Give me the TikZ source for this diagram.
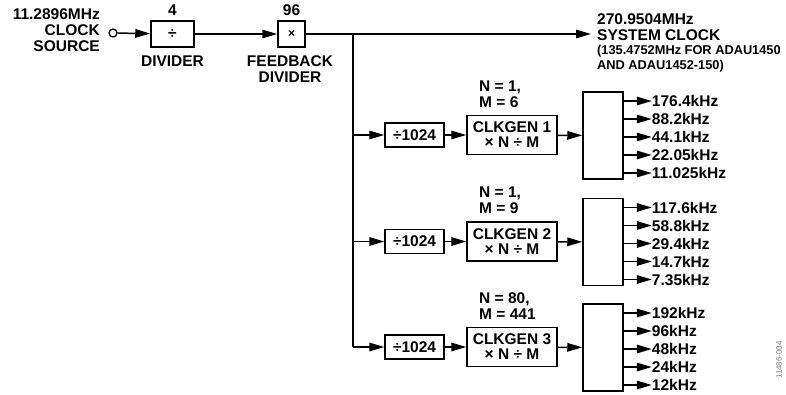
\documentclass[tikz,border=0pt]{standalone}
\usepackage{fontspec}
\setmainfont{Liberation Sans}
\usetikzlibrary{arrows.meta}
\begin{document}
\begin{tikzpicture}[x=1pt,y=-1pt,
  lbl/.style={font=\fontsize{15.5}{16}\selectfont\bfseries, inner sep=0pt},
  sml/.style={font=\fontsize{12.8}{15}\selectfont\bfseries, inner sep=0pt},
  box/.style={draw, line width=1.5pt, inner sep=0pt, font=\fontsize{15.5}{15}\selectfont\bfseries, align=center},
  arr/.style={line width=1.5pt, -{Triangle[length=15pt,width=8.5pt]}},
  wire/.style={line width=1.5pt}]
\useasboundingbox (0,0) rectangle (786,394);

% source
\node[lbl, align=right, anchor=east] (srctxt) at (100,30) {11.2896MHz\\CLOCK\\SOURCE};
\node[draw, circle, line width=1.3pt, minimum size=8pt, inner sep=0pt] (src) at (113,33) {};
\node[box, minimum width=43pt, minimum height=26pt] (div) at (172.5,34) {÷};
\node[lbl] (divn) at (172.5,10) {4};
\node[lbl] (divl) at (172.5,61) {DIVIDER};
\node[box, minimum width=27pt, minimum height=26pt] (fb) at (291.5,34) {\fontsize{12}{12}\selectfont ×};
\node[lbl] (fbn) at (291.5,10) {96};
\node[lbl, align=center] (fbl) at (290,69) {FEEDBACK\\DIVIDER};
\draw[arr] (src) -- (div);
\draw[arr] (div) -- (fb);

\coordinate (br) at (353,34);
\coordinate (sysend) at (591,34);
\draw[arr] (fb) -- (sysend);
\node[lbl, anchor=west] (sys1) at (597,19) {270.9504MHz};
\node[lbl, anchor=west] (sys2) at (597,35) {SYSTEM CLOCK};
\node[sml, anchor=west] (sys3) at (597,51) {(135.4752MHz FOR ADAU1450};
\node[sml, anchor=west] (sys4) at (597,66) {AND ADAU1452-150)};

\foreach \i/\y/\n/\m/\fa/\fb/\fc/\fd/\fe in {
  1/135/1/6/176.4kHz/88.2kHz/44.1kHz/22.05kHz/11.025kHz,
  2/241.5/1/9/117.6kHz/58.8kHz/29.4kHz/14.7kHz/7.35kHz,
  3/347/80/441/192kHz/96kHz/48kHz/24kHz/12kHz}{
  \node[box, minimum width=59pt, minimum height=24pt] (d\i) at (414.5,\y) {÷1024};
  \node[box, minimum width=90pt, minimum height=39pt] (g\i) at (512,\y) {CLKGEN \i\\× N ÷ M};
  \node[lbl, anchor=west, align=left] (nm\i) at (479,\y-41) {N = \n,\\M = \m};
  \node[draw, line width=1.5pt, minimum width=40pt, minimum height=87pt, inner sep=0pt] (t\i) at (603,\y+0.5) {};
  \draw[arr] (br |- d\i) -- (d\i);
  \draw[arr] (d\i) -- (g\i);
  \draw[arr] (g\i) -- (t\i);
  \foreach \j/\f in {0/\fa,1/\fb,2/\fc,3/\fd,4/\fe}{
    \coordinate (s\i\j) at ([yshift=34pt-18pt*\j]t\i.east |- 0,\y);
    \node[lbl, anchor=west] (f\i\j) at ([xshift=28pt]s\i\j) {\f};
    \draw[arr] (s\i\j) -- (f\i\j.west);
  }
}
\draw[wire] (br) -- (br |- d3);

\node[font=\fontsize{8}{9}\selectfont, text=gray, rotate=90] (fig) at (779,360) {11486-004};
\end{tikzpicture}
\end{document}
